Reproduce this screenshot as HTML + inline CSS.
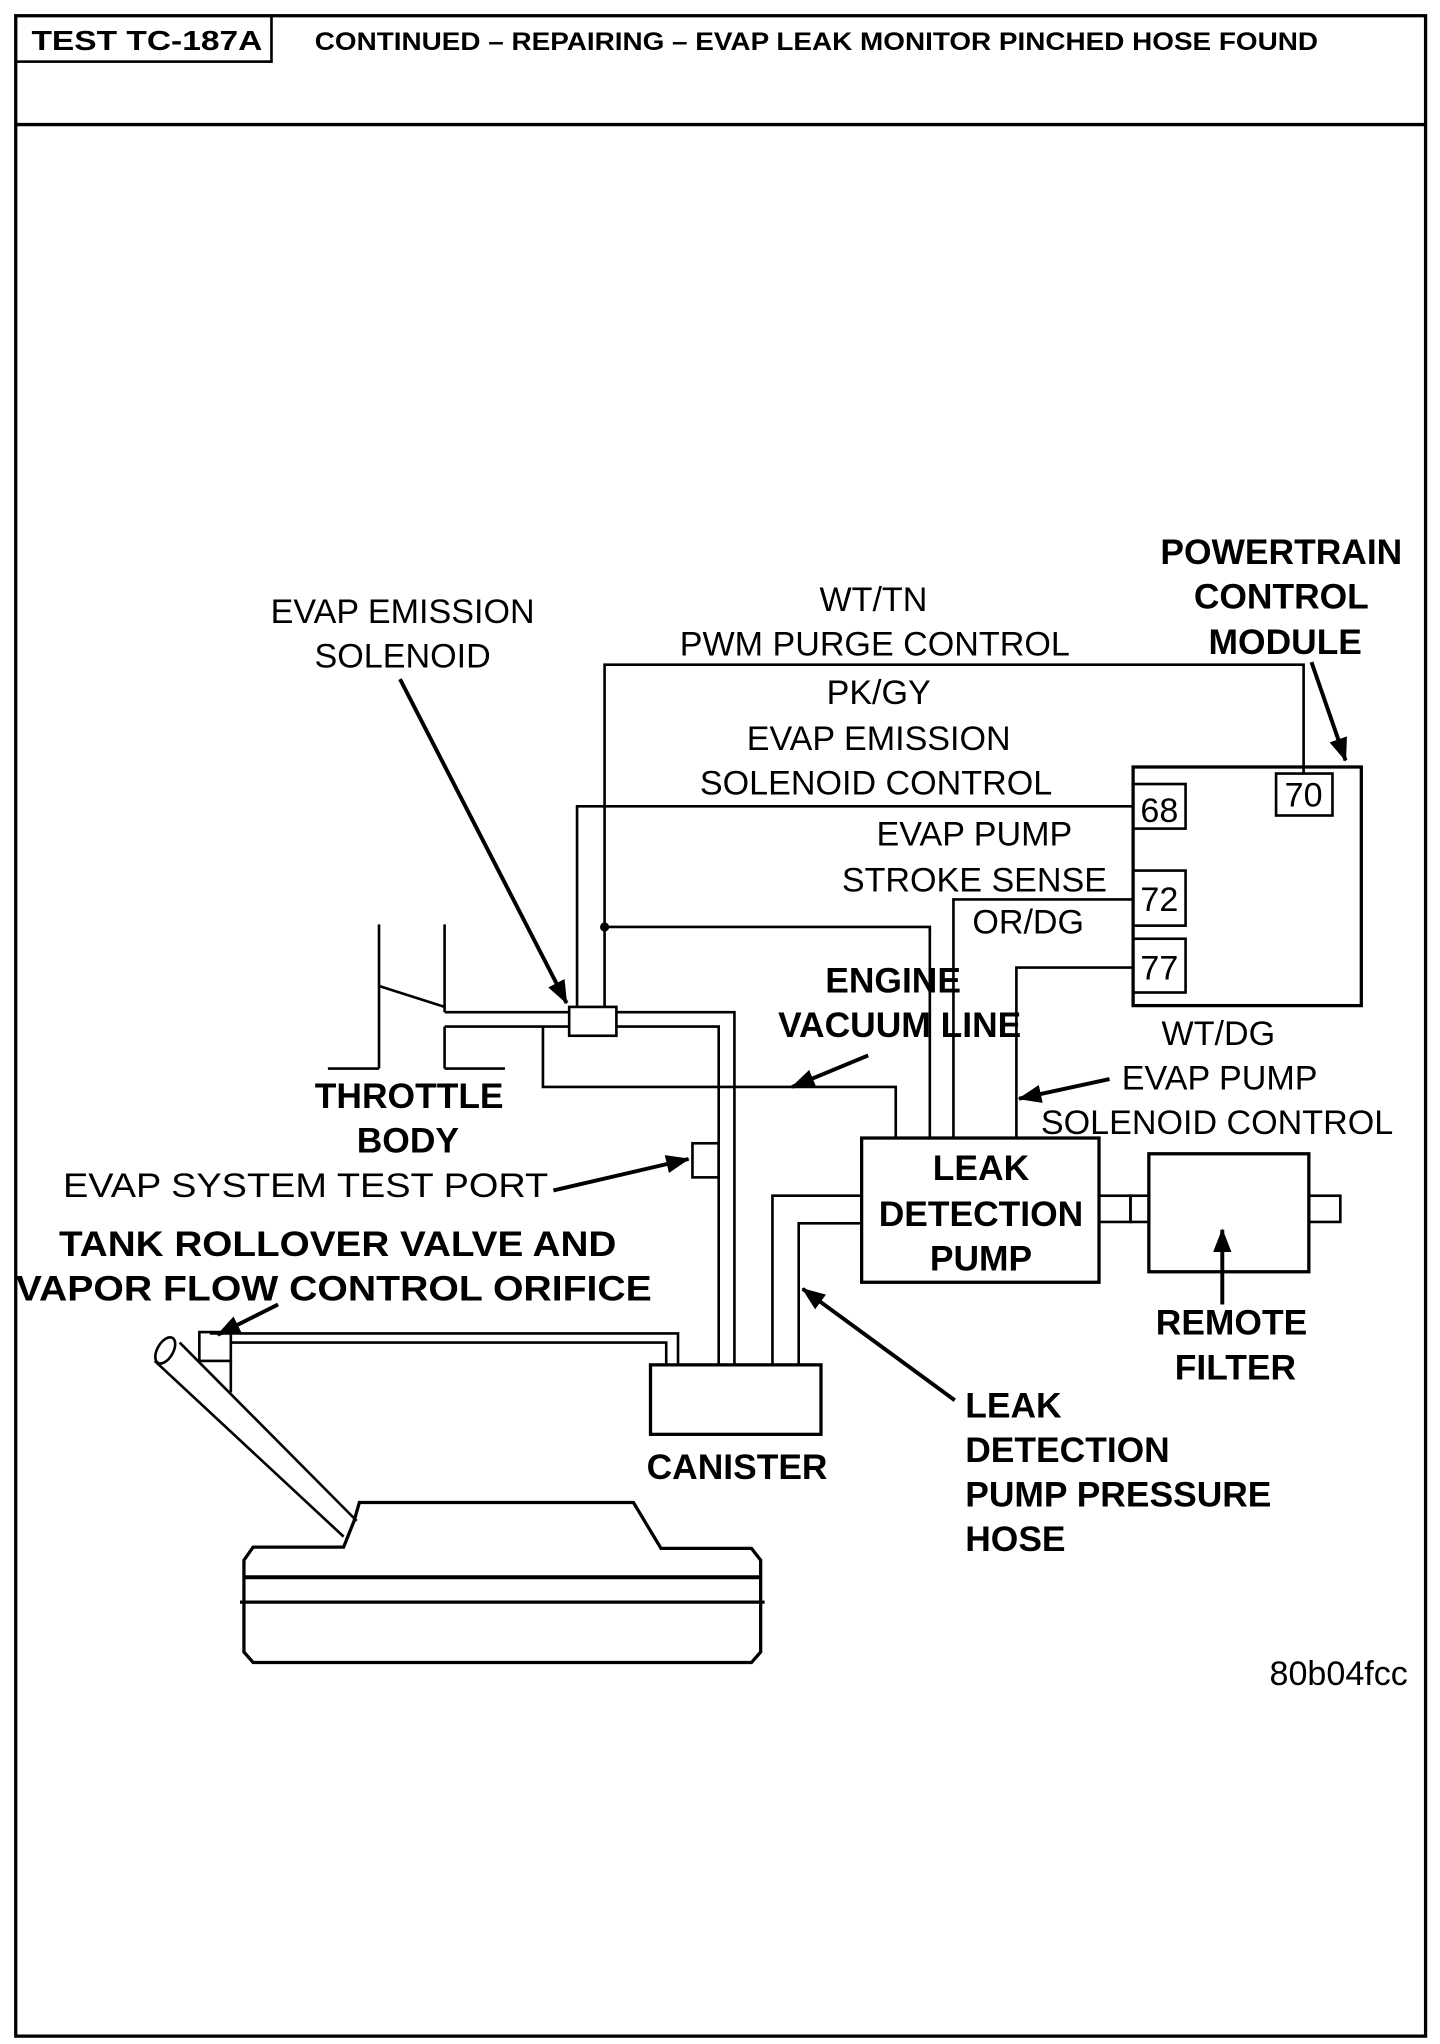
<!DOCTYPE html>
<html><head><meta charset="utf-8"><style>
html,body{margin:0;padding:0;background:#fff}
svg{display:block}
text{font-family:"Liberation Sans",Arial,sans-serif;fill:#000}
.r{font-size:26px}
.b{font-size:27px;font-weight:bold}
</style></head><body>
<svg width="1440" height="2044" viewBox="0 0 1098 1559" preserveAspectRatio="none" xmlns="http://www.w3.org/2000/svg">
<defs><marker id="ah" markerWidth="10" markerHeight="10" refX="9" refY="5" orient="auto" markerUnits="userSpaceOnUse" viewBox="0 0 10 10"><path d="M0,0 L10,5 L0,10 z" fill="#000"/></marker>
<marker id="ah2" markerWidth="18" markerHeight="14" refX="17" refY="7" orient="auto" markerUnits="userSpaceOnUse"><path d="M0,0 L18,7 L0,14 z" fill="#000"/></marker></defs>
<g fill="none" stroke="#000">
<rect x="12" y="12" width="1075" height="1541" stroke-width="2.5"/>
<line x1="12" y1="95" x2="1087" y2="95" stroke-width="2.5"/>
<rect x="12" y="12" width="195" height="35" stroke-width="2"/>
<!-- PCM -->
<rect x="864" y="585" width="174" height="182" stroke-width="2.5"/>
<rect x="973" y="590" width="43" height="32" stroke-width="2"/>
<rect x="864" y="598" width="40" height="34" stroke-width="2"/>
<rect x="864" y="664" width="40" height="42" stroke-width="2"/>
<rect x="864" y="716" width="40" height="41" stroke-width="2"/>
<!-- wires -->
<g stroke-width="2">
<polyline points="994,590 994,507 461,507 461,768"/>
<polyline points="864,615 440,615 440,768"/>
<polyline points="864,686 727,686 727,868"/>
<polyline points="461,707 709,707 709,868"/>
<polyline points="864,738 775,738 775,868"/>
<polyline points="414,783 414,829 683,829 683,868"/>
</g>
<circle cx="461" cy="707" r="3" fill="#000"/>
<!-- throttle body -->
<g stroke-width="2">
<line x1="289" y1="705" x2="289" y2="815"/>
<line x1="339" y1="705" x2="339" y2="772"/>
<line x1="339" y1="783" x2="339" y2="815"/>
<line x1="250" y1="815" x2="289" y2="815"/>
<line x1="339" y1="815" x2="385" y2="815"/>
<line x1="289" y1="752" x2="339" y2="768"/>
<line x1="339" y1="772" x2="434" y2="772"/>
<line x1="339" y1="783" x2="434" y2="783"/>
<rect x="434" y="768" width="36" height="22"/>
<polyline points="470,772 560,772 560,1042"/>
<polyline points="470,783 548,783 548,1042"/>
<rect x="528" y="872" width="20" height="26"/>
<!-- LDP -->
<rect x="657" y="868" width="181" height="110" stroke-width="2.5"/>
<polyline points="589,1042 589,912 657,912"/>
<polyline points="609,1042 609,933 657,933"/>
<rect x="838" y="912" width="24" height="20"/>
<rect x="862" y="912" width="14" height="20"/>
<rect x="876" y="880" width="122" height="90" stroke-width="2.5"/>
<rect x="998" y="912" width="24" height="20"/>
<!-- canister -->
<rect x="496" y="1041" width="130" height="53" stroke-width="2.5"/>
<polyline points="517,1041 517,1017 160,1017"/>
<polyline points="508,1041 508,1024 176,1024"/>
<rect x="152" y="1016" width="24" height="22"/>
<line x1="176" y1="1038" x2="176" y2="1062"/>
<!-- filler neck -->
<line x1="118" y1="1038" x2="262" y2="1172"/>
<line x1="137" y1="1024" x2="272" y2="1160"/>
<ellipse cx="126" cy="1030" rx="6" ry="11" transform="rotate(30 126 1030)"/>
<!-- tank -->
<path d="M274,1146 L483,1146 L504,1181 L573,1181 L580,1190 L580,1260 L573,1268 L193,1268 L186,1260 L186,1190 L193,1180 L262,1180 L270,1160 Z" stroke-width="2.5"/>
<line x1="186" y1="1203" x2="580" y2="1203" stroke-width="3"/>
<line x1="183" y1="1222" x2="583" y2="1222" stroke-width="2.5"/>
</g>
<!-- arrows -->
<g stroke-width="3">
<line x1="305" y1="518" x2="432" y2="765" marker-end="url(#ah2)"/>
<line x1="1000" y1="505" x2="1026" y2="580" marker-end="url(#ah2)"/>
<line x1="662" y1="805" x2="604" y2="829" marker-end="url(#ah2)"/>
<line x1="846" y1="823" x2="777" y2="838" marker-end="url(#ah2)"/>
<line x1="422" y1="908" x2="525" y2="884" marker-end="url(#ah2)"/>
<line x1="932" y1="995" x2="932" y2="938" marker-end="url(#ah2)"/>
<line x1="728" y1="1068" x2="612" y2="983" marker-end="url(#ah2)"/>
<line x1="212" y1="995" x2="166" y2="1018" marker-end="url(#ah2)"/>
</g>
</g>
<!-- header text -->
<text x="24" y="38" font-size="21" font-weight="bold" textLength="176" lengthAdjust="spacingAndGlyphs">TEST TC-187A</text>
<text x="240" y="38" font-size="19" font-weight="bold" textLength="765" lengthAdjust="spacingAndGlyphs">CONTINUED – REPAIRING – EVAP LEAK MONITOR PINCHED HOSE FOUND</text>
<!-- labels -->
<g class="r" text-anchor="middle">
<text x="307" y="475">EVAP EMISSION</text>
<text x="307" y="509">SOLENOID</text>
<text x="666" y="466">WT/TN</text>
<text x="667" y="500">PWM PURGE CONTROL</text>
<text x="670" y="537">PK/GY</text>
<text x="670" y="572">EVAP EMISSION</text>
<text x="668" y="606">SOLENOID CONTROL</text>
<text x="743" y="645">EVAP PUMP</text>
<text x="743" y="680">STROKE SENSE</text>
<text x="784" y="712">OR/DG</text>
<text x="929" y="797">WT/DG</text>
<text x="930" y="831">EVAP PUMP</text>
<text x="928" y="865">SOLENOID CONTROL</text>
<text x="884" y="627">68</text>
<text x="994" y="615">70</text>
<text x="884" y="695">72</text>
<text x="884" y="747">77</text>
</g>
<text class="r" x="48" y="913" textLength="370" lengthAdjust="spacingAndGlyphs">EVAP SYSTEM TEST PORT</text>
<text class="r" x="968" y="1285" font-size="22">80b04fcc</text>
<g class="b" text-anchor="middle">
<text x="977" y="430">POWERTRAIN</text>
<text x="977" y="464">CONTROL</text>
<text x="980" y="499">MODULE</text>
<text x="681" y="757">ENGINE</text>
<text x="686" y="791">VACUUM LINE</text>
<text x="312" y="845">THROTTLE</text>
<text x="311" y="879">BODY</text>
<text x="748" y="900">LEAK</text>
<text x="748" y="935">DETECTION</text>
<text x="748" y="969">PUMP</text>
<text x="939" y="1018">REMOTE</text>
<text x="942" y="1052">FILTER</text>
<text x="562" y="1128">CANISTER</text>
</g>
<text class="b" x="45" y="958" textLength="425" lengthAdjust="spacingAndGlyphs">TANK ROLLOVER VALVE AND</text>
<text class="b" x="12" y="992" textLength="485" lengthAdjust="spacingAndGlyphs">VAPOR FLOW CONTROL ORIFICE</text>
<text class="b" x="736" y="1081">LEAK</text>
<text class="b" x="736" y="1115">DETECTION</text>
<text class="b" x="736" y="1149">PUMP PRESSURE</text>
<text class="b" x="736" y="1183">HOSE</text>
</svg>
</body></html>
